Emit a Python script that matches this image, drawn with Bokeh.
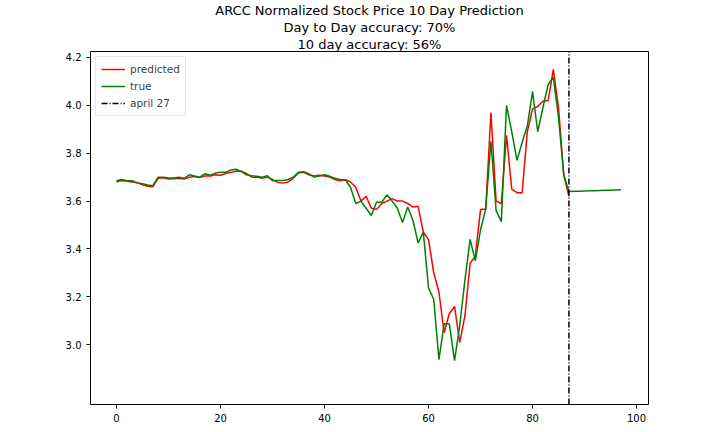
from bokeh.plotting import figure
from bokeh.models import Span, Legend, LegendItem, NumeralTickFormatter, FixedTicker, Title
from bokeh.embed import file_html
from bokeh.resources import INLINE

true_vals = [3.685,3.69,3.685,3.685,3.675,3.672,3.667,3.664,3.70,3.70,3.696,3.696,3.70,3.695,3.71,3.705,3.70,3.714,3.708,3.717,3.72,3.72,3.73,3.733,3.723,3.71,3.706,3.704,3.70,3.706,3.685,3.686,3.686,3.69,3.70,3.72,3.723,3.714,3.70,3.705,3.71,3.704,3.695,3.69,3.689,3.658,3.59,3.60,3.57,3.54,3.595,3.595,3.626,3.60,3.57,3.51,3.575,3.52,3.425,3.47,3.237,3.19,2.937,3.087,3.087,2.933,3.08,3.27,3.44,3.35,3.48,3.567,3.85,3.56,3.514,4.00,3.89,3.77,3.845,3.914,4.057,3.89,3.99,4.087,4.118,3.95,3.71,3.64,3.6407,3.6414,3.6421,3.6428,3.6435,3.6442,3.6449,3.6456,3.6463,3.647]
pred_vals = [3.68,3.686,3.683,3.68,3.678,3.668,3.662,3.66,3.695,3.697,3.692,3.693,3.695,3.692,3.70,3.703,3.698,3.705,3.705,3.71,3.708,3.715,3.72,3.725,3.725,3.715,3.70,3.70,3.695,3.70,3.69,3.678,3.675,3.68,3.695,3.718,3.72,3.71,3.705,3.708,3.705,3.70,3.69,3.685,3.689,3.68,3.658,3.60,3.62,3.57,3.565,3.59,3.60,3.61,3.60,3.60,3.59,3.575,3.578,3.47,3.44,3.30,3.22,3.05,3.13,3.16,3.01,3.12,3.34,3.37,3.565,3.567,3.97,3.60,3.59,3.875,3.65,3.635,3.635,3.89,3.985,3.995,4.017,4.02,4.15,3.99,3.71,3.62]
x_true = list(range(len(true_vals)))
x_pred = list(range(len(pred_vals)))
cutoff_day = 87
titles = ["ARCC Normalized Stock Price 10 Day Prediction", "Day to Day accuracy: 70%", "10 day accuracy: 56%"]

p = figure(width=704, height=424, output_backend="svg", toolbar_location=None,
           x_range=(-5, 102.3), y_range=(2.75, 4.225),
           min_border_left=90, min_border_right=56, min_border_top=12, min_border_bottom=20)
for t in reversed(titles):
    p.add_layout(Title(text=t, align="center", text_font_size="13px", text_font_style="normal",
                       text_font="DejaVu Sans", text_color="black", offset=0, standoff=0), "above")
p.grid.visible = False
p.outline_line_color = "black"
p.xaxis.ticker = FixedTicker(ticks=[0,20,40,60,80,100])
p.yaxis.ticker = FixedTicker(ticks=[3.0,3.2,3.4,3.6,3.8,4.0,4.2])
p.yaxis.formatter = NumeralTickFormatter(format="0.0")
for ax in (p.xaxis[0], p.yaxis[0]):
    ax.major_label_text_font = "DejaVu Sans"
    ax.major_label_text_font_size = "10px"
    ax.major_label_text_color = "black"
    ax.major_tick_line_color = "black"
    ax.minor_tick_line_color = None
    ax.major_tick_out = 4
    ax.major_tick_in = 0
    ax.axis_line_color = None

r1 = p.line(x_pred, pred_vals, line_color="red", line_width=1.5)
r2 = p.line(x_true, true_vals, line_color="green", line_width=1.5)
r3 = p.line([cutoff_day, cutoff_day], [2.75, 4.225], line_color="black", line_width=1.5, line_dash="6 2 1 2")
leg = Legend(items=[LegendItem(label="predicted", renderers=[r1]),
                    LegendItem(label="true", renderers=[r2]),
                    LegendItem(label="april 27", renderers=[r3])],
             location="top_left", label_text_font="DejaVu Sans", label_text_font_size="10.5px",
             glyph_width=24, glyph_height=14, label_height=14, spacing=3, padding=5, margin=5,
             border_line_color="#cccccc")
p.add_layout(leg)

open("out.html", "w").write(file_html(p, INLINE))
